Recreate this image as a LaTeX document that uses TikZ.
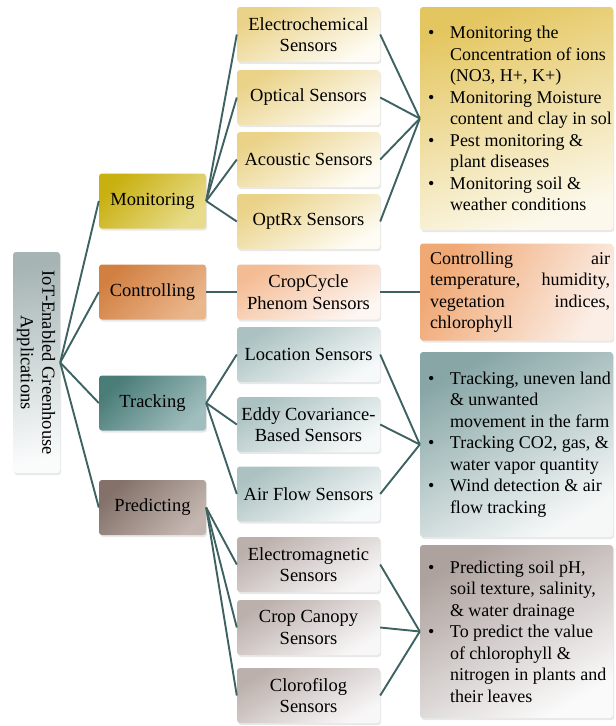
\documentclass[tikz,border=0pt]{standalone}
\usepackage{fontspec}
\setmainfont{Liberation Serif}
\usetikzlibrary{shadows}

% colour palette
\definecolor{link}{RGB}{62,98,98}
\definecolor{monA}{RGB}{200,176,16}\definecolor{monB}{RGB}{210,190,26}\definecolor{monC}{RGB}{232,220,140}
\definecolor{conA}{RGB}{210,128,66}\definecolor{conB}{RGB}{216,140,80}\definecolor{conC}{RGB}{234,182,140}
\definecolor{traA}{RGB}{74,124,120}\definecolor{traB}{RGB}{86,136,132}\definecolor{traC}{RGB}{160,190,190}
\definecolor{preA}{RGB}{132,114,106}\definecolor{preB}{RGB}{142,124,116}\definecolor{preC}{RGB}{196,182,176}
\definecolor{smA}{RGB}{234,210,136}\definecolor{smB}{RGB}{248,238,206}\definecolor{smC}{RGB}{254,252,244}
\definecolor{scA}{RGB}{244,188,148}\definecolor{scB}{RGB}{250,222,204}\definecolor{scC}{RGB}{253,246,242}
\definecolor{stA}{RGB}{172,194,194}\definecolor{stB}{RGB}{214,226,226}\definecolor{stC}{RGB}{246,249,249}
\definecolor{spA}{RGB}{188,176,172}\definecolor{spB}{RGB}{222,216,214}\definecolor{spC}{RGB}{248,247,247}
\definecolor{bmA}{RGB}{228,198,96}\definecolor{bmB}{RGB}{247,238,198}\definecolor{bmC}{RGB}{252,249,236}
\definecolor{bcA}{RGB}{240,168,116}\definecolor{bcB}{RGB}{247,212,188}\definecolor{bcC}{RGB}{251,238,230}
\definecolor{btA}{RGB}{136,166,166}\definecolor{btB}{RGB}{206,220,220}\definecolor{btC}{RGB}{246,248,248}
\definecolor{bpA}{RGB}{174,162,158}\definecolor{bpB}{RGB}{220,214,212}\definecolor{bpC}{RGB}{250,250,250}
\definecolor{rtA}{RGB}{166,180,180}\definecolor{rtB}{RGB}{222,230,230}\definecolor{rtC}{RGB}{250,252,252}

% one line of a result box: bulleted first line, or an indented follow-on line
\newcommand\bl[1]{\makebox[193pt][l]{\hspace*{8pt}\makebox[22pt][l]{\textbullet}#1}}
\newcommand\cl[1]{\makebox[193pt][l]{\hspace*{30pt}#1}}

\tikzset{
  x=1pt, y=1pt,
  basebox/.style={rounded corners=3pt, inner sep=0pt, align=center,
    font=\fontsize{18.5}{21.5}\selectfont,
    drop shadow={shadow xshift=1.2pt, shadow yshift=-2pt, opacity=0.18, fill=black!50}},
  grad/.style n args={4}{top color=#1, middle color=#2, bottom color=#3, shading angle=#4},
  catbox/.style={basebox, minimum width=107pt, minimum height=55pt},
  sensbox/.style={basebox, minimum width=143pt, minimum height=55pt},
  resbox/.style={basebox, minimum width=193pt, align=left,
    font=\fontsize{18}{21.5}\selectfont},
  link/.style={draw=link, line width=1.9pt},
}

\begin{document}
\begin{tikzpicture}
\useasboundingbox (0,0) rectangle (616,-726);

% root
\node[basebox, minimum width=47pt, minimum height=221pt, grad={rtA}{rtB}{rtC}{10}]
  (root) at (36.5,-362.5) {};
\node[rotate=-90, align=center, font=\fontsize{18.5}{21.5}\selectfont]
  (roottext) at (36,-362.5) {IoT-Enabled Greenhouse\\Applications};

% categories
\node[catbox, grad={monA}{monB}{monC}{45}] (mon) at (152.5,-201) {Monitoring};
\node[catbox, grad={conA}{conB}{conC}{45}] (con) at (152.5,-292) {Controlling};
\node[catbox, grad={traA}{traB}{traC}{45}] (tra) at (152.5,-403) {Tracking};
\node[catbox, grad={preA}{preB}{preC}{45}] (pre) at (152.5,-507.5) {Predicting};

% sensors
\node[sensbox, grad={smA}{smB}{smC}{30}] (s1) at (308.5,-34.5) {Electrochemical\\Sensors};
\node[sensbox, grad={smA}{smB}{smC}{30}] (s2) at (308.5,-97.5) {Optical Sensors};
\node[sensbox, grad={smA}{smB}{smC}{30}] (s3) at (308.5,-159.5) {Acoustic Sensors};
\node[sensbox, grad={smA}{smB}{smC}{30}] (s4) at (308.5,-221.5) {OptRx Sensors};

\node[sensbox, grad={scA}{scB}{scC}{30}] (c1) at (308.5,-292) {CropCycle\\Phenom Sensors};

\node[sensbox, grad={stA}{stB}{stC}{30}] (t1) at (308.5,-354.5) {Location Sensors};
\node[sensbox, grad={stA}{stB}{stC}{30}] (t2) at (308.5,-424.5) {Eddy Covariance-\\Based Sensors};
\node[sensbox, grad={stA}{stB}{stC}{30}] (t3) at (308.5,-494) {Air Flow Sensors};

\node[sensbox, grad={spA}{spB}{spC}{30}] (p1) at (308.5,-564.5) {Electromagnetic\\Sensors};
\node[sensbox, grad={spA}{spB}{spC}{30}] (p2) at (308.5,-627.5) {Crop Canopy\\Sensors};
\node[sensbox, grad={spA}{spB}{spC}{30}] (p3) at (308.5,-695.5) {Clorofilog\\Sensors};

% result boxes
\node[resbox, minimum height=223pt, grad={bmA}{bmB}{bmC}{20}] (rm) at (516.5,-118.5) {%
  \bl{Monitoring the}\\ \cl{Concentration of ions}\\ \cl{(NO3, H+, K+)}\\
  \bl{Monitoring Moisture}\\ \cl{content and clay in sol}\\
  \bl{Pest monitoring \&}\\ \cl{plant diseases}\\
  \bl{Monitoring soil \&}\\ \cl{weather conditions}};

\node[resbox, minimum height=97pt, grad={bcA}{bcB}{bcC}{60}] (rc) at (516.5,-292) {%
  \makebox[193pt][l]{\hspace*{10pt}\parbox{180pt}{\raggedright
  Controlling\hfill air\par temperature,\hfill humidity,\par
  vegetation\hfill indices,\par chlorophyll}}};

\node[resbox, minimum height=185pt, grad={btA}{btB}{btC}{30}] (rt) at (516.5,-444.5) {%
  \bl{Tracking, uneven land}\\ \cl{\& unwanted}\\ \cl{movement in the farm}\\
  \bl{Tracking CO2, gas, \&}\\ \cl{water vapor quantity}\\
  \bl{Wind detection \& air}\\ \cl{flow tracking}};

\node[resbox, minimum height=173pt, grad={bpA}{bpB}{bpC}{30}] (rp) at (516.5,-631.5) {%
  \bl{Predicting soil pH,}\\ \cl{soil texture, salinity,}\\ \cl{\& water drainage}\\
  \bl{To predict the value}\\ \cl{of chlorophyll \&}\\ \cl{nitrogen in plants and}\\ \cl{their leaves}};

% connectors
\foreach \c in {mon,con,tra,pre} \draw[link] (root.east) -- (\c.west);
\foreach \s in {s1,s2,s3,s4} {\draw[link] (mon.east) -- (\s.west); \draw[link] (\s.east) -- (rm.west);}
\draw[link] (con.east) -- (c1.west);
\draw[link] (c1.east) -- (rc.west);
\foreach \s in {t1,t2,t3} {\draw[link] (tra.east) -- (\s.west); \draw[link] (\s.east) -- (rt.west);}
\foreach \s in {p1,p2,p3} {\draw[link] (pre.east) -- (\s.west); \draw[link] (\s.east) -- (rp.west);}
\end{tikzpicture}
\end{document}
